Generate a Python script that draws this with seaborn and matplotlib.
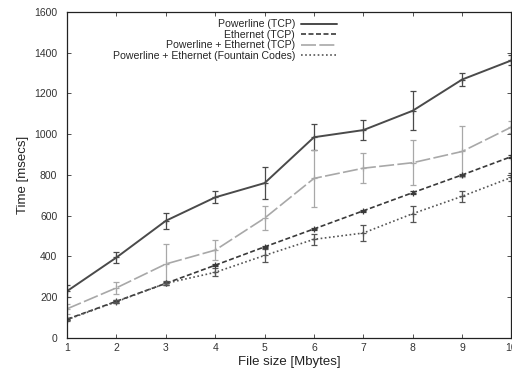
import numpy as np
import pandas as pd
import seaborn as sns
import matplotlib.pyplot as plt

# values
file_size = [1, 2, 3, 4, 5, 6, 7, 8, 9, 10]
powerline = [230, 395, 575, 690, 760, 985, 1020, 1115, 1268, 1362]
powerline_err = [30, 26, 38, 30, 78, 65, 50, 95, 32, 25]
ethernet = [92, 180, 268, 357, 447, 535, 624, 713, 800, 890]
ethernet_err = [6, 6, 6, 6, 6, 6, 6, 6, 6, 6]
pl_eth = [143, 246, 363, 431, 588, 783, 833, 860, 915, 1035]
pl_eth_err = [25, 28, 96, 48, 60, 140, 73, 110, 124, 30]
fountain = [90, 178, 268, 322, 405, 484, 515, 610, 695, 788]
fountain_err = [8, 8, 10, 20, 30, 28, 37, 39, 28, 20]

labels = ["Powerline (TCP)", "Ethernet (TCP)",
          "Powerline + Ethernet (TCP)", "Powerline + Ethernet (Fountain Codes)"]

sns.set_style("ticks")
plt.rcParams['font.family'] = ['Liberation Sans', 'DejaVu Sans']

fig = plt.figure(figsize=(5.12, 3.71), dpi=100)
ax = fig.add_axes([0.131, 0.089, 0.868, 0.879])

series = [
    (powerline, powerline_err, '#4a4a4a', (None, None), 1.4),
    (ethernet, ethernet_err, '#3a3a3a', (3, 1.5), 1.2),
    (pl_eth, pl_eth_err, '#a8a8a8', (9, 2), 1.2),
    (fountain, fountain_err, '#555555', (1, 1.5), 1.2),
]

for (vals, err, col, dash, lw), lab in zip(series, labels):
    df = pd.DataFrame({'size': file_size, 'time': vals})
    sns.lineplot(data=df, x='size', y='time', ax=ax, color=col,
                 linewidth=lw, label=lab)
    l = ax.lines[-1]
    if dash[0] is not None:
        l.set_dashes(dash)
    ax.errorbar(file_size, vals, yerr=err, fmt='+', color=col, ecolor=col,
                elinewidth=0.9, capsize=2.5, capthick=0.9, markersize=5,
                markeredgewidth=0.9)

ax.set_xlim(1, 10)
ax.set_ylim(0, 1600)
ax.set_xticks(file_size)
ax.set_yticks(np.arange(0, 1601, 200))
ax.tick_params(direction='in', top=True, right=True, labelsize=7.5,
               length=3, width=0.6, colors='#333333')
ax.tick_params(axis='y', pad=7)
for s in ax.spines.values():
    s.set_linewidth(0.9)
    s.set_color('#222222')

ax.set_xlabel("File size [Mbytes]", fontsize=9.5, labelpad=2, color='#222222')
ax.set_ylabel("Time [msecs]", fontsize=9.5, labelpad=14, color='#222222')
ax.yaxis.set_label_coords(-0.085, 0.5)

ax.legend(loc='upper center', bbox_to_anchor=(0.355, 1.0), frameon=False,
          markerfirst=False, fontsize=7.6, handlelength=3.4, labelspacing=0.05,
          handletextpad=0.6, borderaxespad=0.3)

fig.savefig("out.png", dpi=100)
